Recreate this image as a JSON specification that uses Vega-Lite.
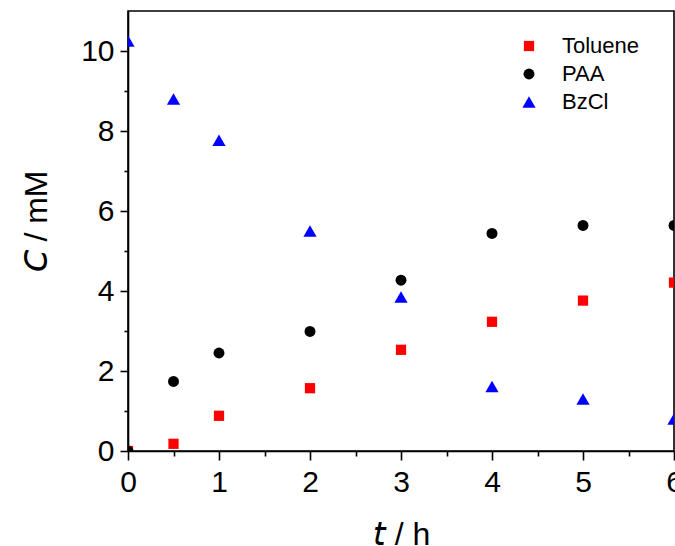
{
  "$schema": "https://vega.github.io/schema/vega-lite/v6.json",
  "width": 546,
  "height": 440,
  "autosize": {"type": "none"},
  "padding": {"left": 128, "top": 11, "right": 1, "bottom": 95},
  "background": "white",
  "config": {
    "font": "Liberation Sans",
    "view": {"stroke": "black", "strokeWidth": 1.6},
    "axis": {
      "domainColor": "black",
      "domainWidth": 1.6,
      "tickColor": "black",
      "tickWidth": 1.6,
      "labelColor": "black",
      "titleColor": "black",
      "grid": false,
      "labelFont": "Liberation Sans",
      "titleFont": "Liberation Sans",
      "labelFontSize": 30,
      "titleFontSize": 32,
      "titleFontWeight": "normal"
    }
  },
  "data": {
    "values": [
      {"t": 0, "C": 0.0, "series": "Toluene"},
      {"t": 0.5, "C": 0.18, "series": "Toluene"},
      {"t": 1, "C": 0.88, "series": "Toluene"},
      {"t": 2, "C": 1.57, "series": "Toluene"},
      {"t": 3, "C": 2.53, "series": "Toluene"},
      {"t": 4, "C": 3.23, "series": "Toluene"},
      {"t": 5, "C": 3.76, "series": "Toluene"},
      {"t": 6, "C": 4.21, "series": "Toluene"},
      {"t": 0, "C": 0.0, "series": "PAA"},
      {"t": 0.5, "C": 1.74, "series": "PAA"},
      {"t": 1, "C": 2.45, "series": "PAA"},
      {"t": 2, "C": 2.99, "series": "PAA"},
      {"t": 3, "C": 4.27, "series": "PAA"},
      {"t": 4, "C": 5.44, "series": "PAA"},
      {"t": 5, "C": 5.64, "series": "PAA"},
      {"t": 6, "C": 5.64, "series": "PAA"},
      {"t": 0, "C": 10.25, "series": "BzCl"},
      {"t": 0.5, "C": 8.8, "series": "BzCl"},
      {"t": 1, "C": 7.77, "series": "BzCl"},
      {"t": 2, "C": 5.5, "series": "BzCl"},
      {"t": 3, "C": 3.85, "series": "BzCl"},
      {"t": 4, "C": 1.61, "series": "BzCl"},
      {"t": 5, "C": 1.3, "series": "BzCl"},
      {"t": 6, "C": 0.8, "series": "BzCl"}
    ]
  },
  "layer": [
    {
      "mark": {"type": "point", "filled": true, "opacity": 1, "strokeWidth": 0, "clip": true},
      "encoding": {
        "x": {
          "field": "t", "type": "quantitative",
          "scale": {"domain": [0, 6], "nice": false, "zero": false},
          "axis": {
            "orient": "bottom",
            "title": "𝘵 / h",
            "values": [0, 1, 2, 3, 4, 5, 6],
            "format": "d",
            "tickSize": 9,
            "labelPadding": 7,
            "titlePadding": 22,
            "labelFlush": false,
            "labelOverlap": false
          }
        },
        "y": {
          "field": "C", "type": "quantitative",
          "scale": {"domain": [0, 11], "nice": false, "zero": false},
          "axis": {
            "orient": "left",
            "title": "𝘊 / mM",
            "titleY": 210,
            "values": [0, 2, 4, 6, 8, 10],
            "format": "d",
            "tickSize": 8,
            "labelPadding": 6,
            "titlePadding": 27,
            "labelFlush": false,
            "labelOverlap": false
          }
        },
        "color": {
          "field": "series", "type": "nominal",
          "scale": {"domain": ["Toluene", "PAA", "BzCl"], "range": ["#ff0000", "#000000", "#0000ff"]},
          "legend": {
            "title": null,
            "orient": "none",
            "legendX": 390,
            "legendY": 24,
            "labelFont": "Liberation Sans",
            "labelFontSize": 22,
            "labelColor": "black",
            "labelOffset": 22,
            "rowPadding": 6,
            "symbolStrokeWidth": 0,
            "padding": 0
          }
        },
        "shape": {
          "field": "series", "type": "nominal",
          "scale": {"domain": ["Toluene", "PAA", "BzCl"], "range": ["square", "circle", "triangle-up"]}
        },
        "size": {
          "field": "series", "type": "ordinal",
          "scale": {"type": "ordinal", "domain": ["Toluene", "PAA", "BzCl"], "range": [105, 120, 175]},
          "legend": null
        },
        "order": {"field": "series", "sort": "descending"}
      }
    },
    {
      "mark": {"type": "point", "opacity": 0},
      "encoding": {
        "x": {
          "field": "t", "type": "quantitative",
          "axis": {
            "orient": "bottom", "title": null, "labels": false, "domain": false,
            "values": [0.5, 1.5, 2.5, 3.5, 4.5, 5.5], "tickSize": 5
          }
        },
        "y": {
          "field": "C", "type": "quantitative",
          "axis": {
            "orient": "left", "title": null, "labels": false, "domain": false,
            "values": [1, 3, 5, 7, 9], "tickSize": 4
          }
        }
      }
    }
  ],
  "resolve": {"axis": {"x": "independent", "y": "independent"}}
}
